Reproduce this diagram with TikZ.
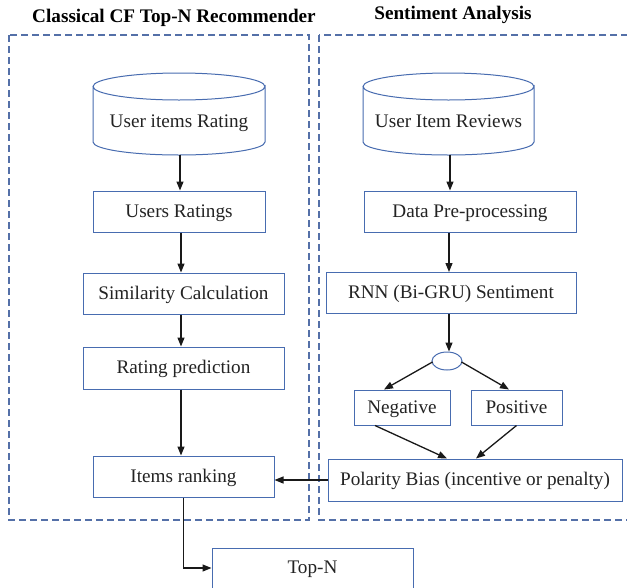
\documentclass[tikz,border=0pt]{standalone}
\usepackage{fontspec}
\setmainfont{Liberation Serif}
\usetikzlibrary{arrows.meta,shapes.geometric,calc}
\definecolor{boxblue}{RGB}{72,108,176}
\definecolor{dashblue}{RGB}{84,112,168}
\definecolor{txt}{RGB}{35,35,35}
\begin{document}
\begin{tikzpicture}[x=1pt,y=-1pt,
  font=\fontsize{19.2}{22}\selectfont, text=txt,
  box/.style={draw=boxblue, line width=1pt, rectangle, inner sep=0pt, fill=white, text height=14.5pt, text depth=3pt},
  arr/.style={draw=black!90, line width=1.3pt, -{Triangle[length=9pt,width=7pt]}},
  grp/.style={draw=dashblue, line width=1.4pt, dash pattern=on 7pt off 4pt},
  ttl/.style={font=\fontsize{19.2}{22}\selectfont\bfseries, text=black}]
\useasboundingbox (0,0) rectangle (627,587);
% group frames
\draw[grp] (9,35) rectangle (309,520);
\draw[grp] (319,35) rectangle (632,520);
\node[ttl] (t1) at (174,18) {Classical CF Top-N Recommender};
\node[ttl] (t2) at (453,15) {Sentiment Analysis};
% cylinders
\draw[boxblue, line width=1pt, fill=white] (93,86.5) -- (93,142) arc[start angle=180, end angle=0, x radius=86, y radius=13] -- (265,86.5) arc[start angle=0, end angle=360, x radius=86, y radius=13.5];
\draw[boxblue, line width=1pt, fill=white] (363,86.5) -- (363,142) arc[start angle=180, end angle=0, x radius=85.5, y radius=13] -- (534,86.5) arc[start angle=0, end angle=360, x radius=85.5, y radius=13.5];
\node[text height=14.5pt, text depth=3pt] (cyl1) at (179,122) {User items Rating};
\node[text height=14.5pt, text depth=3pt] (cyl2) at (448.5,122) {User Item Reviews};
\coordinate (c1b) at (180,155);
\coordinate (c2b) at (450,155);
% left column
\node[box, minimum width=172, minimum height=41] (ur) at (179,211.5) {Users Ratings};
\node[box, minimum width=201, minimum height=41] (sc) at (183.5,293.5) {Similarity Calculation};
\node[box, minimum width=201, minimum height=42] (rp) at (183.5,368) {Rating prediction};
\node[box, minimum width=181, minimum height=41] (ir) at (183.5,476.5) {Items ranking};
\node[box, minimum width=201, minimum height=40] (tn) at (312.5,568) {Top-N};
% right column
\node[box, minimum width=212, minimum height=41] (dp) at (470,211.5) {Data Pre-processing};
\node[box, minimum width=250, minimum height=41] (rnn) at (451,293) {RNN (Bi-GRU) Sentiment};
\node[draw=boxblue, line width=1pt, ellipse, minimum width=30, minimum height=18, inner sep=0pt] (ell) at (447,361) {};
\node[box, minimum width=96, minimum height=35] (neg) at (402,407.5) {Negative};
\node[box, minimum width=91, minimum height=35] (pos) at (516.5,407.5) {Positive};
\node[box, minimum width=294, minimum height=42] (pb) at (475,480) {Polarity Bias (incentive or penalty)};
% connectors left
\coordinate (lx) at (181,0);
\draw[arr] (c1b) -- (c1b |- ur.north);
\draw[arr] (ur.south -| lx) -- (sc.north -| lx);
\draw[arr] (sc.south -| lx) -- (rp.north -| lx);
\draw[arr] (rp.south -| lx) -- (ir.north -| lx);
\draw[arr] (ir.south) |- (tn.west);
% connectors right
\coordinate (rx) at (449,0);
\draw[arr] (c2b) -- (c2b |- dp.north);
\draw[arr] (dp.south -| rx) -- (rnn.north -| rx);
\draw[arr] (rnn.south -| rx) -- (ell.north -| rx);
\draw[arr] (ell.west) ++(1,1) -- ([xshift=-18pt]neg.north);
\draw[arr] (ell.east) ++(-1,1) -- ([xshift=-7.5pt]pos.north);
\draw[arr] ([xshift=-27pt]neg.south) -- ([xshift=-28pt]pb.north);
\draw[arr] (pos.south) -- ([xshift=1pt]pb.north);
\draw[arr] (pb.west) -- (pb.west -| ir.east);
\end{tikzpicture}
\end{document}
